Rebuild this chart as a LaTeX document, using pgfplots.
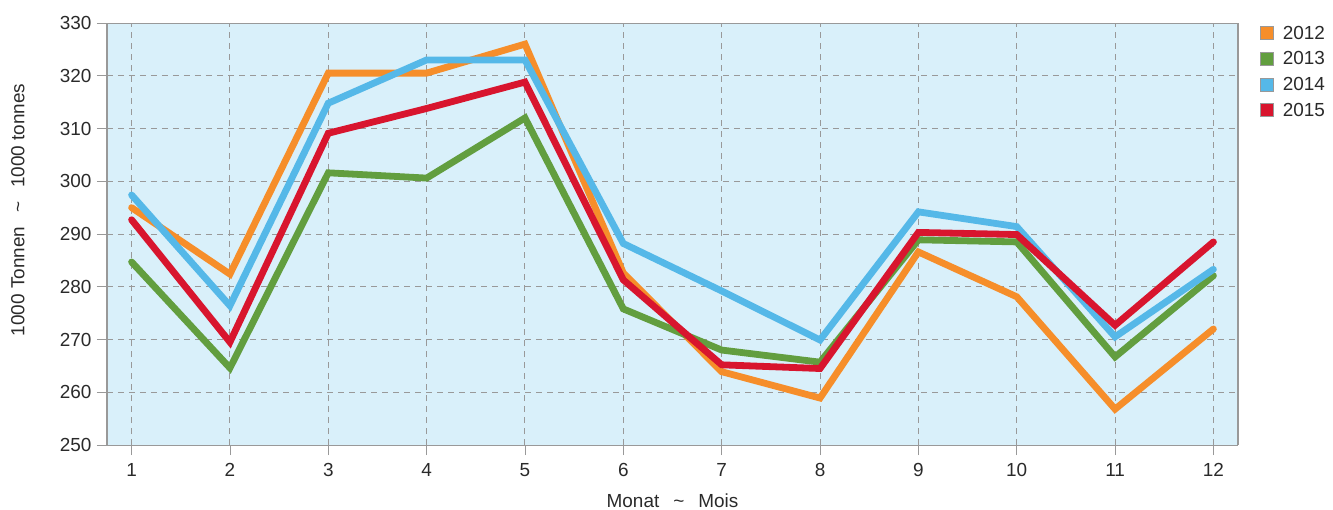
\documentclass[border=0pt]{standalone}
\usepackage{fontspec}
\setmainfont{Liberation Sans}
\usepackage{pgfplots}
\pgfplotsset{compat=1.18}

\definecolor{bgc}{HTML}{D9F0FA}
\definecolor{c12}{HTML}{F68E2A}
\definecolor{c13}{HTML}{629E3F}
\definecolor{c14}{HTML}{55B8E8}
\definecolor{c15}{HTML}{D8152E}
\definecolor{gridc}{HTML}{999999}
\definecolor{txt}{HTML}{2A2A2A}

\newcommand{\fs}{\fontsize{19}{22}\selectfont}

\begin{document}
\begin{tikzpicture}
\useasboundingbox (-107bp,-65bp) rectangle (1226bp,445bp);
\begin{axis}[
    scale only axis,
    width=1131bp, height=422bp,
    xmin=0.75, xmax=12.25,
    ymin=250, ymax=330,
    xtick={1,...,12},
    ytick={250,260,...,330},
    xtick pos=lower, ytick pos=left,
    tick align=outside,
    major tick length=10bp,
    tick style={draw=gridc, line width=0.8bp},
    axis background/.style={fill=bgc},
    separate axis lines,
    x axis line style={draw=gridc, line width=1bp},
    y axis line style={draw=gridc, line width=1.8bp},
    grid=major,
    major grid style={draw=gridc, line width=1bp, dash pattern=on 6bp off 5bp},
    tick label style={font=\fs, text=txt},
    /pgf/number format/assume math mode=true,
    /pgf/number format/1000 sep={},
    xticklabel style={yshift=-5bp},
    yticklabel style={xshift=-2bp},
    xlabel={Monat\hspace{14bp}\textasciitilde\hspace{14bp}Mois},
    ylabel={1000 Tonnen\hspace{14bp}\textasciitilde\hspace{14bp}1000 tonnes},
    every axis x label/.style={at={(axis description cs:0.5,-0.147)}, anchor=base, text=txt, font=\fs},
    every axis y label/.style={at={(axis description cs:-0.0787,0.557)}, rotate=90, anchor=center, text=txt, font=\fs},
    legend style={draw=none, fill=none, at={(axis description cs:1.017,1.003)}, anchor=north west,
        font=\fs, text=txt, row sep=7bp},
    legend cell align=left,
    legend image code/.code={\filldraw[#1, draw=gridc, line width=0.8bp] (0bp,-6.5bp) rectangle (13bp,6.5bp);
        \path[draw=none, fill=none] (0bp,0bp) -- (20bp,0bp);},
    every axis plot/.append style={line width=6.8bp, line join=miter, line cap=round},
]
\addplot[c12] coordinates {(1,295) (2,282.4) (3,320.5) (4,320.5) (5,326) (6,282.6) (7,263.9) (8,258.9) (9,286.6) (10,278.1) (11,256.8) (12,272)};
\addlegendentry{2012}
\addplot[c13] coordinates {(1,284.7) (2,264.6) (3,301.6) (4,300.6) (5,312) (6,275.8) (7,268) (8,265.7) (9,288.9) (10,288.5) (11,266.7) (12,282.1)};
\addlegendentry{2013}
\addplot[c14] coordinates {(1,297.4) (2,276.4) (3,314.8) (4,323) (5,323) (6,288.2) (7,279.2) (8,269.9) (9,294.2) (10,291.4) (11,270.5) (12,283.3)};
\addlegendentry{2014}
\addplot[c15] coordinates {(1,292.7) (2,269.5) (3,309.1) (4,313.8) (5,318.8) (6,281.3) (7,265.2) (8,264.5) (9,290.3) (10,289.9) (11,272.7) (12,288.5)};
\addlegendentry{2015}
\end{axis}
\end{tikzpicture}
\end{document}
